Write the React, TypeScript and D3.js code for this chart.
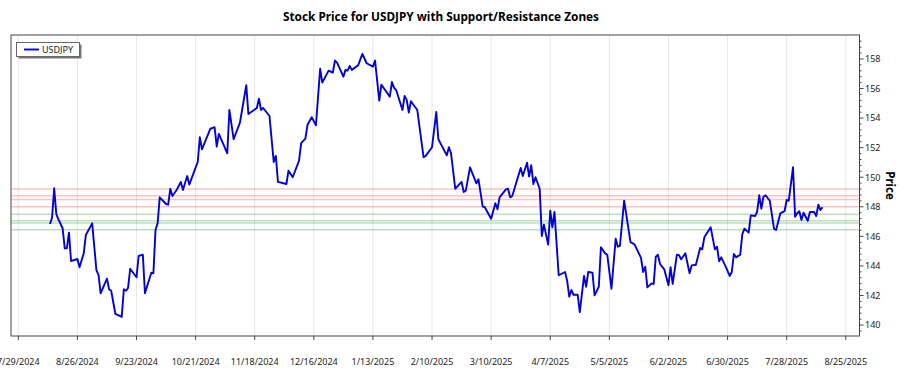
import React from "react";
import * as d3 from "d3";

const dates: string[] = [
  "2024-08-13","2024-08-14","2024-08-15","2024-08-16","2024-08-17","2024-08-19","2024-08-20","2024-08-21","2024-08-22","2024-08-23",
  "2024-08-26","2024-08-27","2024-08-29","2024-08-30","2024-09-02","2024-09-04","2024-09-05","2024-09-06","2024-09-09","2024-09-10",
  "2024-09-11","2024-09-13","2024-09-16","2024-09-17","2024-09-18","2024-09-19","2024-09-20","2024-09-23","2024-09-24","2024-09-26",
  "2024-09-27","2024-09-30","2024-10-01","2024-10-02","2024-10-03","2024-10-04","2024-10-07","2024-10-08","2024-10-09","2024-10-10",
  "2024-10-12","2024-10-14","2024-10-15","2024-10-17","2024-10-18","2024-10-22","2024-10-23","2024-10-24","2024-10-28","2024-10-30",
  "2024-10-31","2024-11-01","2024-11-05","2024-11-06","2024-11-08","2024-11-11","2024-11-14","2024-11-15","2024-11-19","2024-11-20",
  "2024-11-21","2024-11-22","2024-11-25","2024-11-27","2024-11-28","2024-11-29","2024-12-03","2024-12-04","2024-12-06","2024-12-09",
  "2024-12-10","2024-12-12","2024-12-13","2024-12-15","2024-12-17","2024-12-19","2024-12-20","2024-12-23","2024-12-25","2024-12-26",
  "2024-12-27","2024-12-30","2024-12-31","2025-01-01","2025-01-02","2025-01-03","2025-01-06","2025-01-08","2025-01-10","2025-01-13",
  "2025-01-14","2025-01-16","2025-01-17","2025-01-21","2025-01-22","2025-01-23","2025-01-24","2025-01-27","2025-01-28","2025-01-29",
  "2025-01-30","2025-01-31","2025-02-03","2025-02-06","2025-02-07","2025-02-10","2025-02-12","2025-02-13","2025-02-17","2025-02-18",
  "2025-02-19","2025-02-21","2025-02-24","2025-02-25","2025-02-26","2025-02-28","2025-03-03","2025-03-04","2025-03-06","2025-03-07",
  "2025-03-10","2025-03-12","2025-03-13","2025-03-14","2025-03-17","2025-03-18","2025-03-19","2025-03-20","2025-03-24","2025-03-25",
  "2025-03-27","2025-03-28","2025-03-29","2025-03-30","2025-03-31","2025-04-02","2025-04-03","2025-04-04","2025-04-06","2025-04-07",
  "2025-04-08","2025-04-09","2025-04-11","2025-04-14","2025-04-15","2025-04-16","2025-04-17","2025-04-18","2025-04-20","2025-04-21",
  "2025-04-23","2025-04-24","2025-04-25","2025-04-27","2025-04-28","2025-04-30","2025-05-01","2025-05-03","2025-05-04","2025-05-06",
  "2025-05-08","2025-05-09","2025-05-10","2025-05-12","2025-05-15","2025-05-17","2025-05-20","2025-05-21","2025-05-22","2025-05-23",
  "2025-05-25","2025-05-26","2025-05-27","2025-05-28","2025-05-29","2025-05-31","2025-06-02","2025-06-03","2025-06-04","2025-06-06",
  "2025-06-07","2025-06-08","2025-06-10","2025-06-12","2025-06-13","2025-06-15","2025-06-17","2025-06-18","2025-06-19","2025-06-22",
  "2025-06-24","2025-06-25","2025-06-26","2025-06-27","2025-06-29","2025-07-01","2025-07-02","2025-07-03","2025-07-04","2025-07-06",
  "2025-07-07","2025-07-08","2025-07-10","2025-07-11","2025-07-13","2025-07-14","2025-07-15","2025-07-16","2025-07-17","2025-07-18",
  "2025-07-20","2025-07-22","2025-07-23","2025-07-25","2025-07-27","2025-07-28","2025-07-29","2025-07-31","2025-08-01","2025-08-02",
  "2025-08-03","2025-08-04","2025-08-05","2025-08-07","2025-08-08","2025-08-10","2025-08-11","2025-08-12","2025-08-13","2025-08-14"
];

const prices: number[] = [
  146.84,147.26,149.25,147.51,147.15,146.55,145.19,145.19,146.25,144.33,
  144.47,143.91,144.85,146.09,146.88,143.72,143.39,142.15,143.14,142.42,
  142.32,140.75,140.56,142.42,142.32,142.51,143.81,143.23,144.67,144.76,
  142.15,143.54,143.50,146.43,146.88,148.64,148.19,148.14,149.22,148.73,
  149.14,149.68,149.14,150.08,149.50,151.03,152.70,151.89,153.28,153.38,
  152.07,152.93,151.62,154.55,152.57,153.69,156.22,154.28,154.68,155.31,
  154.55,154.68,154.14,151.03,151.44,149.68,149.54,150.44,150.00,151.12,
  152.30,152.61,153.55,154.06,153.51,157.34,156.40,157.21,157.07,157.89,
  157.75,156.80,157.26,157.21,157.53,157.26,157.57,158.34,157.71,157.48,
  157.89,155.18,156.26,155.45,156.44,156.04,155.90,154.55,155.50,155.23,
  154.37,155.14,154.55,151.35,151.44,152.03,154.41,152.57,151.48,152.03,
  151.62,149.22,149.68,149.00,149.09,150.67,149.59,149.86,148.01,147.97,
  147.19,148.24,147.83,148.64,149.18,149.22,148.64,148.73,150.63,150.08,
  150.98,150.04,150.81,149.54,150.00,149.22,146.02,146.79,145.44,147.74,
  146.61,147.65,143.37,143.59,143.00,141.92,142.37,142.05,142.05,140.88,
  143.32,142.59,143.59,143.54,142.01,142.59,145.26,144.85,144.76,142.46,
  145.84,145.30,145.35,148.41,145.62,145.44,144.54,143.59,143.95,142.55,
  142.82,142.78,144.62,144.76,144.13,143.77,142.69,143.91,142.78,144.76,
  144.72,144.45,144.85,143.50,144.04,144.08,145.21,145.12,145.94,146.61,
  145.12,145.30,144.31,144.58,143.99,143.32,143.59,144.81,144.58,144.76,
  146.16,146.52,146.25,147.42,147.38,147.65,148.78,147.87,148.68,148.78,
  148.41,146.52,146.43,147.56,147.70,148.46,148.41,150.67,147.33,147.56,
  147.70,147.11,147.60,147.06,147.65,147.65,147.38,148.14,147.78,147.97
];

const resistanceLevels: number[] = [149.2, 148.75, 148.5, 148.0];
const supportLevels: number[] = [147.5, 147.05, 146.9, 146.45];

const xTickLabels: string[] = [
  "7/29/2024","8/26/2024","9/23/2024","10/21/2024","11/18/2024","12/16/2024","1/13/2025",
  "2/10/2025","3/10/2025","4/7/2025","5/5/2025","6/2/2025","6/30/2025","7/28/2025","8/25/2025"
];
const yTicks: number[] = [140, 142, 144, 146, 148, 150, 152, 154, 156, 158];

const title = "Stock Price for USDJPY with Support/Resistance Zones";
const seriesName = "USDJPY";
const yTitle = "Price";

const W = 900, H = 375;
const plot = { left: 11, right: 859.5, top: 35, bottom: 336 };
const FONT = "'Noto Sans', 'Open Sans', sans-serif";

export default function App() {
  const parse = d3.timeParse("%Y-%m-%d");
  const parseTick = d3.timeParse("%m/%d/%Y");
  const data = dates.map((d, i) => ({ date: parse(d) as Date, value: prices[i] }));
  const tickDates = xTickLabels.map((t) => parseTick(t) as Date);

  const x = d3
    .scaleTime()
    .domain([new Date(2024, 6, 25, 13), new Date(2025, 7, 31, 12)])
    .range([plot.left, plot.right]);
  const y = d3.scaleLinear().domain([139.26, 159.62]).range([plot.bottom, plot.top]);

  const line = d3
    .line<{ date: Date; value: number }>()
    .x((d) => x(d.date))
    .y((d) => y(d.value));

  const minorTicks = d3.range(139.6, 159.6, 0.4).filter(
    (v) => !yTicks.some((t) => Math.abs(t - v) < 0.01)
  );

  return (
    <svg
      width={W}
      height={H}
      style={{ position: "absolute", left: 0, top: 0, background: "#fff" }}
      fontFamily={FONT}
    >
      <rect x={0} y={0} width={W} height={H} fill="#fff" />
      <text x={441} y={21} textAnchor="middle" fontSize={11.8} fontWeight="bold" fill="#000">
        {title}
      </text>
      {tickDates.map((d, i) => (
        <line key={"g" + i} x1={x(d)} x2={x(d)} y1={plot.top} y2={plot.bottom} stroke="#e6e6e6" strokeWidth={1} />
      ))}
      {resistanceLevels.map((v, i) => (
        <line key={"r" + i} x1={plot.left} x2={plot.right} y1={y(v)} y2={y(v)} stroke="rgba(240,60,60,0.3)" strokeWidth={1.5} />
      ))}
      {supportLevels.map((v, i) => (
        <line key={"s" + i} x1={plot.left} x2={plot.right} y1={y(v)} y2={y(v)} stroke="rgba(40,150,40,0.3)" strokeWidth={1.5} />
      ))}
      <path d={line(data) || ""} fill="none" stroke="#0000d8" strokeWidth={1.9} strokeLinejoin="round" />
      <rect
        x={plot.left}
        y={plot.top}
        width={plot.right - plot.left}
        height={plot.bottom - plot.top}
        fill="none"
        stroke="#444"
        strokeWidth={1}
      />
      {tickDates.map((d, i) => (
        <g key={"xt" + i}>
          <line x1={x(d)} x2={x(d)} y1={plot.bottom} y2={plot.bottom + 4} stroke="#444" />
          <text x={x(d)} y={365} textAnchor="middle" fontSize={9} fill="#222">
            {xTickLabels[i]}
          </text>
        </g>
      ))}
      {minorTicks.map((v, i) => (
        <line key={"ym" + i} x1={plot.right} x2={plot.right + 2} y1={y(v)} y2={y(v)} stroke="#444" />
      ))}
      {yTicks.map((v, i) => (
        <g key={"yt" + i}>
          <line x1={plot.right} x2={plot.right + 4} y1={y(v)} y2={y(v)} stroke="#444" />
          <text x={865} y={y(v) + 3.3} fontSize={9} fill="#222">
            {v}
          </text>
        </g>
      ))}
      <text
        transform={`translate(886,${(plot.top + plot.bottom) / 2}) rotate(90)`}
        textAnchor="middle"
        fontSize={11.5}
        fontWeight="bold"
        fill="#000"
      >
        {yTitle}
      </text>
      <rect x={18.5} y={44.5} width={63} height={14} fill="#777" />
      <rect x={16.5} y={42.5} width={63} height={14} fill="#fff" stroke="#666" strokeWidth={1} />
      <line x1={24} x2={39} y1={49.5} y2={49.5} stroke="#0000d8" strokeWidth={1.9} />
      <text x={42} y={52.5} fontSize={9} fill="#222">
        {seriesName}
      </text>
    </svg>
  );
}
